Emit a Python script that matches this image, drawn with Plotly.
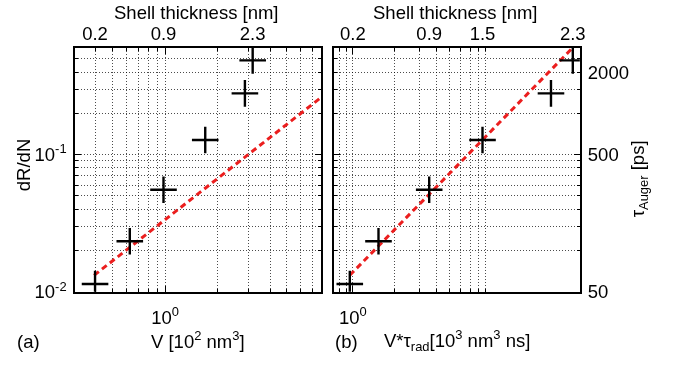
import math
import plotly.graph_objects as go

# ---------------- data ----------------
# panel (a): volume V [10^2 nm^3] vs dR/dN
V = [0.397, 0.628, 0.98, 1.70, 2.87, 3.18]
dRdN = [0.0114, 0.0234, 0.0555, 0.128, 0.280, 0.487]
# panel (b): V*tau_rad [10^3 nm^3 ns]
Vtau = [0.95, 1.53, 3.55, 8.6, 26.8, 38.5]
# dashed guide lines
fit_a_x = [0.392, 7.9]
fit_a_y = [0.0132, 0.263]
fit_b_x = [0.95, 38.5]
fit_b_y = [0.0132, 0.603]
# top axis (shell thickness) tick labels
shell_a_vals = [0.397, 0.98, 3.18]
shell_a_text = ["0.2", "0.9", "2.3"]
shell_b_vals = [1.0, 3.55, 8.6, 38.5]
shell_b_text = ["0.2", "0.9", "1.5", "2.3"]
# right axis: tau_Auger [ps]
tau_ticks = [50, 500, 2000]
tau_scale = 5000  # tau_Auger [ps] = 5000 * dR/dN

W, H = 677, 368
FONT = "Liberation Sans, Arial, Helvetica, sans-serif"
FS = 18.5

def px(x):
    return x / W

def py(y):
    return 1 - y / H

xa_dom = [px(76), px(324)]
xb_dom = [px(337), px(585)]
y_dom = [py(300), py(49)]

xa_range = [math.log10(0.306), math.log10(7.85)]
xb_range = [-0.136, 1.636]
y_range = [-2, -0.22]
tau_range = [math.log10(50), math.log10(50) + (y_range[1] - y_range[0])]

grid = dict(showgrid=True, gridcolor="rgba(0,0,0,0.7)", gridwidth=1, griddash="1px,2px")
minor_xa = [0.4, 0.5, 0.6, 0.7, 0.8, 0.9, 2, 3, 4, 5, 6, 7]
minor_xb = [0.8, 0.9, 2, 3, 4, 5, 6, 7, 8, 9]
minor_y = [0.02, 0.03, 0.04, 0.05, 0.06, 0.07, 0.08, 0.09, 0.2, 0.3, 0.4, 0.5, 0.6]

fig = go.Figure()

cross = dict(symbol="cross-thin", size=19, line=dict(width=2.4, color="black"), color="black")
red = dict(color="rgb(235,30,30)", width=3, dash="6px,4px")

fig.add_trace(go.Scatter(x=fit_a_x, y=fit_a_y, mode="lines", line=red, xaxis="x", yaxis="y", hoverinfo="skip"))
fig.add_trace(go.Scatter(x=V, y=dRdN, mode="markers", marker=cross, xaxis="x", yaxis="y"))
fig.add_trace(go.Scatter(x=fit_b_x, y=fit_b_y, mode="lines", line=red, xaxis="x3", yaxis="y2", hoverinfo="skip"))
fig.add_trace(go.Scatter(x=Vtau, y=dRdN, mode="markers", marker=cross, xaxis="x3", yaxis="y2"))
# invisible traces binding the auxiliary axes
fig.add_trace(go.Scatter(x=V, y=dRdN, mode="markers", opacity=0, xaxis="x2", yaxis="y", hoverinfo="skip"))
fig.add_trace(go.Scatter(x=Vtau, y=dRdN, mode="markers", opacity=0, xaxis="x4", yaxis="y2", hoverinfo="skip"))
fig.add_trace(go.Scatter(x=Vtau, y=[tau_scale * v for v in dRdN], mode="markers", opacity=0,
                         xaxis="x3", yaxis="y3", hoverinfo="skip"))

axline = dict(showline=True, linecolor="black", linewidth=2, mirror="ticks",
              ticks="inside", ticklen=6, tickwidth=1, tickcolor="black", zeroline=False)
tfont = dict(family=FONT, size=FS, color="black")

fig.update_layout(
    width=W, height=H, autosize=False,
    margin=dict(l=0, r=0, t=0, b=0),
    paper_bgcolor="white", plot_bgcolor="white",
    showlegend=False,
    font=dict(family=FONT, size=FS, color="black"),
    xaxis=dict(type="log", domain=xa_dom, range=xa_range, anchor="y",
               tickmode="array", tickvals=[1], ticktext=["10<sup>0</sup>"], tickfont=tfont,
               ticklabelstandoff=8,
               minor=dict(tickmode="array", tickvals=minor_xa, ticks="inside", ticklen=3,
                          tickcolor="black", **grid),
               **grid, **axline),
    xaxis2=dict(type="log", domain=xa_dom, range=xa_range, overlaying="x", side="top", anchor="y",
                tickmode="array", tickvals=shell_a_vals, ticktext=shell_a_text, tickfont=tfont,
                ticks="", showgrid=False, showline=False, zeroline=False, ticklabelstandoff=3),
    xaxis3=dict(type="log", domain=xb_dom, range=xb_range, anchor="y2",
                tickmode="array", tickvals=[1], ticktext=["10<sup>0</sup>"], tickfont=tfont,
                ticklabelstandoff=8,
                minor=dict(tickmode="array", tickvals=minor_xb, ticks="inside", ticklen=3,
                           tickcolor="black", **grid),
                **grid, **axline),
    xaxis4=dict(type="log", domain=xb_dom, range=xb_range, overlaying="x3", side="top", anchor="y2",
                tickmode="array", tickvals=shell_b_vals, ticktext=shell_b_text, tickfont=tfont,
                ticks="", showgrid=False, showline=False, zeroline=False, ticklabelstandoff=3),
    yaxis=dict(type="log", domain=y_dom, range=y_range, anchor="x",
               tickmode="array", tickvals=[0.01, 0.1],
               ticktext=["10<sup>-2</sup>", "10<sup>-1</sup>"], tickfont=tfont,
               ticklabelstandoff=3,
               minor=dict(tickmode="array", tickvals=minor_y, ticks="inside", ticklen=3,
                          tickcolor="black", **grid),
               **grid, **axline),
    yaxis2=dict(type="log", domain=y_dom, range=y_range, anchor="x3",
                tickmode="array", tickvals=[0.01, 0.1], showticklabels=False,
                minor=dict(tickmode="array", tickvals=minor_y, ticks="inside", ticklen=3,
                           tickcolor="black", **grid),
                **grid, **axline),
    yaxis3=dict(type="log", domain=y_dom, range=tau_range, overlaying="y2", side="right", anchor="x3",
                tickmode="array", tickvals=tau_ticks, ticktext=[str(t) for t in tau_ticks],
                tickfont=tfont, ticks="", showgrid=False, showline=False, zeroline=False,
                ticklabelstandoff=7),
)

ann = dict(xref="paper", yref="paper", showarrow=False, font=dict(family=FONT, size=FS, color="black"))
annotations = [
    dict(text="Shell thickness [nm]", x=px(198), y=py(13), xanchor="center", yanchor="middle"),
    dict(text="Shell thickness [nm]", x=px(460), y=py(13), xanchor="center", yanchor="middle"),
    dict(text="V [10<sup>2</sup> nm<sup>3</sup>]", x=px(200), y=py(349), xanchor="center", yanchor="middle"),
    dict(text="V*\u03c4<sub>rad</sub>[10<sup>3</sup> nm<sup>3</sup> ns]", x=px(461), y=py(350),
         xanchor="center", yanchor="middle"),
    dict(text="(a)", x=px(29), y=py(351), xanchor="center", yanchor="middle"),
    dict(text="(b)", x=px(350), y=py(351), xanchor="center", yanchor="middle"),
    dict(text="dR/dN", x=px(24), y=py(170), xanchor="center", yanchor="middle", textangle=-90),
    dict(text="\u03c4<sub>Auger</sub> [ps]", x=px(645), y=py(184), xanchor="center", yanchor="middle",
         textangle=-90),
]
fig.update_layout(annotations=[{**ann, **a} for a in annotations])

fig.write_html("out.html")
